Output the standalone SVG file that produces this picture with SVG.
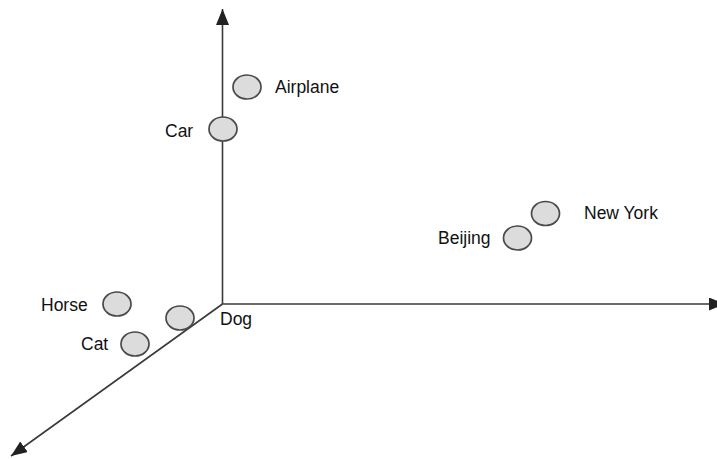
<svg xmlns="http://www.w3.org/2000/svg" width="717" height="459" viewBox="0 0 717 459">
<style>
.axis{stroke:#3a3a3a;stroke-width:1.6;fill:none}
.pt{fill:#dcdcdc;stroke:#4a4a4a;stroke-width:1.7}
.lbl{font-family:"Liberation Sans",Arial,sans-serif;font-size:17.5px;fill:#111}
</style>
<defs>
<marker id="ah" markerUnits="userSpaceOnUse" markerWidth="18" markerHeight="14" refX="16" refY="6.5" orient="auto">
<path d="M0,0 L16,6.5 L0,13 Z" fill="#222"/>
</marker>
</defs>
<rect width="717" height="459" fill="#fff"/>
<g id="connectors">
<line class="axis" x1="222.5" y1="304" x2="222.5" y2="9" marker-end="url(#ah)"/>
<line class="axis" x1="222.5" y1="304" x2="725" y2="304" marker-end="url(#ah)"/>
<line class="axis" x1="222.5" y1="304" x2="11" y2="456" marker-end="url(#ah)"/>
</g>
<g id="airplane"><ellipse class="pt" cx="247" cy="87" rx="14" ry="12"/><text class="lbl" x="275" y="92.5">Airplane</text></g>
<g id="car"><ellipse class="pt" cx="223" cy="129" rx="14" ry="12"/><text class="lbl" x="165" y="137">Car</text></g>
<g id="newyork"><ellipse class="pt" cx="545.5" cy="213.5" rx="14" ry="12"/><text class="lbl" x="584" y="219">New York</text></g>
<g id="beijing"><ellipse class="pt" cx="517.5" cy="238" rx="14" ry="12"/><text class="lbl" x="438" y="244">Beijing</text></g>
<g id="horse"><ellipse class="pt" cx="117" cy="304" rx="14" ry="12"/><text class="lbl" x="41" y="311">Horse</text></g>
<g id="dog"><ellipse class="pt" cx="180" cy="318" rx="14" ry="12"/><text class="lbl" x="220" y="325">Dog</text></g>
<g id="cat"><ellipse class="pt" cx="135" cy="344" rx="14" ry="12"/><text class="lbl" x="81" y="350">Cat</text></g>
</svg>
